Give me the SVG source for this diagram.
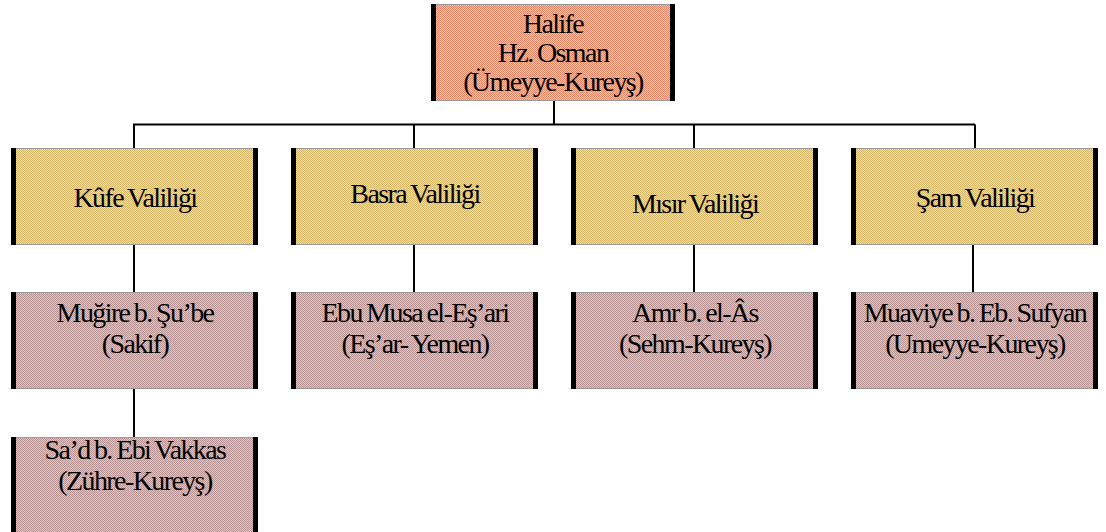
<svg xmlns="http://www.w3.org/2000/svg" width="1106" height="532" viewBox="0 0 1106 532">
<style>
.t{font-family:"Liberation Serif","Times New Roman",serif;font-size:28px;fill:#000;text-anchor:middle;letter-spacing:-1.6px;word-spacing:-1px}
.box{stroke:#9a9a9a;stroke-width:1}
.bar{fill:#000}
.ln{stroke:#000;stroke-width:2;fill:none}
</style>
<defs>
<pattern id="pTop" patternUnits="userSpaceOnUse" width="2" height="2">
<rect width="2" height="2" fill="#F2BC9E"/>
<rect width="1" height="1" fill="#DE8C6C"/>
<rect x="1" y="1" width="1" height="1" fill="#DE8C6C"/>
</pattern>
<pattern id="pYel" patternUnits="userSpaceOnUse" width="2" height="2">
<rect width="2" height="2" fill="#F2DC98"/>
<rect width="1" height="1" fill="#D6B86A"/>
<rect x="1" y="1" width="1" height="1" fill="#D6B86A"/>
</pattern>
<pattern id="pPink" patternUnits="userSpaceOnUse" width="2" height="2">
<rect width="2" height="2" fill="#DCC4C4"/>
<rect width="1" height="1" fill="#B89494"/>
<rect x="1" y="1" width="1" height="1" fill="#B89494"/>
</pattern>
</defs>
<rect width="1106" height="532" fill="#fff"/>
<g id="connectors">
<line class="ln" x1="554" y1="100" x2="554" y2="124.5"/>
<line class="ln" x1="133" y1="124.5" x2="975" y2="124.5"/>
<line class="ln" x1="134" y1="124.5" x2="134" y2="148"/>
<line class="ln" x1="414" y1="124.5" x2="414" y2="148"/>
<line class="ln" x1="694" y1="124.5" x2="694" y2="148"/>
<line class="ln" x1="975" y1="124.5" x2="975" y2="148"/>
<line class="ln" x1="134" y1="244" x2="134" y2="292"/>
<line class="ln" x1="414" y1="244" x2="414" y2="292"/>
<line class="ln" x1="694" y1="244" x2="694" y2="292"/>
<line class="ln" x1="973" y1="244" x2="973" y2="292"/>
<line class="ln" x1="134" y1="388" x2="134" y2="437"/>
</g>
<g id="halife">
<rect class="box" x="431.5" y="4.5" width="243" height="96" fill="url(#pTop)"/>
<rect class="bar" x="431" y="4" width="5" height="97"/>
<rect class="bar" x="670" y="4" width="5" height="97"/>
<text class="t" x="553" y="33">Halife</text>
<text class="t" x="553" y="62">Hz. Osman</text>
<text class="t" x="553" y="91">(Ümeyye-Kureyş)</text>
</g>
<g id="kufe">
<rect class="box" x="11.5" y="148.5" width="246" height="96" fill="url(#pYel)"/>
<rect class="bar" x="11" y="148" width="5" height="97"/>
<rect class="bar" x="253" y="148" width="5" height="97"/>
<text class="t" x="135" y="207">Kûfe Valiliği</text>
</g>
<g id="basra">
<rect class="box" x="291.5" y="148.5" width="246" height="96" fill="url(#pYel)"/>
<rect class="bar" x="291" y="148" width="5" height="97"/>
<rect class="bar" x="533" y="148" width="5" height="97"/>
<text class="t" x="415" y="203">Basra Valiliği</text>
</g>
<g id="misir">
<rect class="box" x="571.5" y="148.5" width="246" height="96" fill="url(#pYel)"/>
<rect class="bar" x="571" y="148" width="5" height="97"/>
<rect class="bar" x="813" y="148" width="5" height="97"/>
<text class="t" x="695" y="213">Mısır Valiliği</text>
</g>
<g id="sam">
<rect class="box" x="851.5" y="148.5" width="246" height="96" fill="url(#pYel)"/>
<rect class="bar" x="851" y="148" width="5" height="97"/>
<rect class="bar" x="1093" y="148" width="5" height="97"/>
<text class="t" x="975" y="207">Şam Valiliği</text>
</g>
<g id="mugire">
<rect class="box" x="11.5" y="292.5" width="246" height="96" fill="url(#pPink)"/>
<rect class="bar" x="11" y="292" width="5" height="97"/>
<rect class="bar" x="253" y="292" width="5" height="97"/>
<text class="t" x="135" y="322">Muğire b. Şu’be</text>
<text class="t" x="135" y="353">(Sakif)</text>
</g>
<g id="ebumusa">
<rect class="box" x="291.5" y="292.5" width="246" height="96" fill="url(#pPink)"/>
<rect class="bar" x="291" y="292" width="5" height="97"/>
<rect class="bar" x="533" y="292" width="5" height="97"/>
<text class="t" x="415" y="322">Ebu Musa el-Eş’ari</text>
<text class="t" x="415" y="353">(Eş’ar- Yemen)</text>
</g>
<g id="amr">
<rect class="box" x="571.5" y="292.5" width="246" height="96" fill="url(#pPink)"/>
<rect class="bar" x="571" y="292" width="5" height="97"/>
<rect class="bar" x="813" y="292" width="5" height="97"/>
<text class="t" x="695" y="322">Amr b. el-Âs</text>
<text class="t" x="695" y="353">(Sehm-Kureyş)</text>
</g>
<g id="muaviye">
<rect class="box" x="851.5" y="292.5" width="246" height="96" fill="url(#pPink)"/>
<rect class="bar" x="851" y="292" width="5" height="97"/>
<rect class="bar" x="1093" y="292" width="5" height="97"/>
<text class="t" x="975" y="322">Muaviye b. Eb. Sufyan</text>
<text class="t" x="975" y="353">(Umeyye-Kureyş)</text>
</g>
<g id="sad">
<rect class="box" x="11.5" y="437.5" width="246" height="110" fill="url(#pPink)"/>
<rect class="bar" x="11" y="437" width="5" height="110"/>
<rect class="bar" x="253" y="437" width="5" height="110"/>
<text class="t" x="135" y="459">Sa’d b. Ebi Vakkas</text>
<text class="t" x="135" y="490">(Zühre-Kureyş)</text>
</g>
</svg>
